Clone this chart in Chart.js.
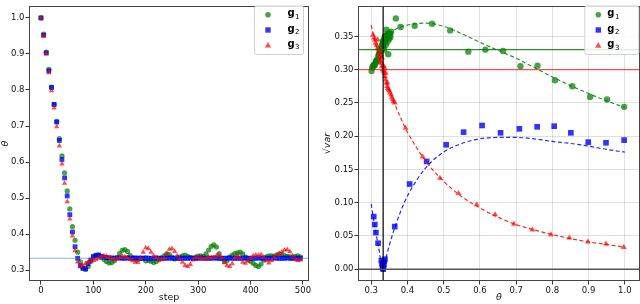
<!DOCTYPE html>
<html>
<head>
<meta charset="utf-8">
<script src="https://cdn.jsdelivr.net/npm/chart.js@4.4.0/dist/chart.umd.min.js"></script>
<style>
  body { margin: 0; width: 640px; height: 304px; overflow: hidden; position: relative; background: #fff; }
  .box { position: absolute; top: 0; height: 304px; }
</style>
</head>
<body>
<div class="box" style="left:0;width:320px"><canvas id="thetaChart" width="320" height="304"></canvas></div>
<div class="box" style="left:320px;width:324px"><canvas id="varChart" width="324" height="304"></canvas></div>
<script>
// ---- left panel: theta per step ----
const steps = [
  0, 5, 10, 15, 20, 25, 30, 35, 40, 45,
  50, 55, 60, 65, 70, 75, 80, 85, 90, 95,
  100, 105, 110, 115, 120, 125, 130, 135, 140, 145,
  150, 155, 160, 165, 170, 175, 180, 185, 190, 195,
  200, 205, 210, 215, 220, 225, 230, 235, 240, 245,
  250, 255, 260, 265, 270, 275, 280, 285, 290, 295,
  300, 305, 310, 315, 320, 325, 330, 335, 340, 345,
  350, 355, 360, 365, 370, 375, 380, 385, 390, 395,
  400, 405, 410, 415, 420, 425, 430, 435, 440, 445,
  450, 455, 460, 465, 470, 475, 480, 485, 490, 495
];
const theta1 = [
  1.0, 0.955, 0.905, 0.857, 0.808, 0.76, 0.713, 0.665, 0.617, 0.57,
  0.52, 0.47, 0.421, 0.383, 0.35, 0.323, 0.306, 0.302, 0.31, 0.324,
  0.336, 0.341, 0.342, 0.336, 0.33, 0.324, 0.32, 0.321, 0.326, 0.335,
  0.346, 0.355, 0.357, 0.352, 0.341, 0.334, 0.331, 0.33, 0.334, 0.332,
  0.326, 0.327, 0.325, 0.321, 0.324, 0.329, 0.334, 0.34, 0.345, 0.343,
  0.336, 0.331, 0.333, 0.336, 0.34, 0.342, 0.338, 0.335, 0.333, 0.336,
  0.339, 0.34, 0.338, 0.345, 0.356, 0.366, 0.37, 0.364, 0.346, 0.333,
  0.324, 0.327, 0.336, 0.342, 0.346, 0.348, 0.35, 0.345, 0.336, 0.33,
  0.325, 0.319, 0.313, 0.31, 0.317, 0.328, 0.337, 0.34, 0.34, 0.339,
  0.342, 0.345, 0.343, 0.34, 0.338, 0.337, 0.336, 0.338, 0.34, 0.337
];
const theta2 = [
  1.0, 0.952, 0.903, 0.853, 0.807, 0.76, 0.711, 0.66, 0.607, 0.556,
  0.506, 0.454, 0.406, 0.365, 0.333, 0.312, 0.305, 0.304, 0.318, 0.328,
  0.338, 0.341, 0.342, 0.338, 0.336, 0.335, 0.334, 0.334, 0.333, 0.334,
  0.334, 0.333, 0.333, 0.334, 0.333, 0.333, 0.334, 0.333, 0.333, 0.333,
  0.334, 0.333, 0.333, 0.333, 0.334, 0.333, 0.333, 0.333, 0.333, 0.334,
  0.333, 0.333, 0.334, 0.333, 0.333, 0.333, 0.333, 0.334, 0.333, 0.333,
  0.333, 0.334, 0.333, 0.333, 0.333, 0.333, 0.334, 0.333, 0.333, 0.333,
  0.333, 0.333, 0.334, 0.333, 0.333, 0.333, 0.333, 0.333, 0.334, 0.333,
  0.333, 0.333, 0.333, 0.334, 0.333, 0.333, 0.333, 0.333, 0.333, 0.334,
  0.333, 0.333, 0.333, 0.333, 0.334, 0.333, 0.333, 0.333, 0.333, 0.333
];
const theta3 = [
  1.0, 0.95, 0.90, 0.848, 0.798, 0.75, 0.698, 0.645, 0.595, 0.541,
  0.49, 0.442, 0.395, 0.354, 0.323, 0.31, 0.313, 0.318, 0.323, 0.326,
  0.327, 0.33, 0.333, 0.337, 0.34, 0.338, 0.335, 0.332, 0.33, 0.331,
  0.335, 0.338, 0.337, 0.334, 0.33, 0.326, 0.322, 0.322, 0.332, 0.35,
  0.362, 0.36, 0.35, 0.34, 0.334, 0.33, 0.329, 0.333, 0.345, 0.358,
  0.36, 0.352, 0.34, 0.33, 0.322, 0.313, 0.31, 0.316, 0.328, 0.335,
  0.336, 0.333, 0.331, 0.333, 0.336, 0.334, 0.335, 0.34, 0.341, 0.334,
  0.321, 0.313, 0.31, 0.318, 0.333, 0.34, 0.333, 0.322, 0.319, 0.325,
  0.333, 0.34, 0.342, 0.341, 0.343, 0.336, 0.326, 0.32, 0.327, 0.335,
  0.342, 0.345, 0.351, 0.356, 0.357, 0.351, 0.34, 0.331, 0.327, 0.328
];
const thetaTarget = 0.333;
const stepRange = [-22.9, 511.5];

// ---- right panel: sqrt(var) against theta ----
const sd1Theta = [0.998, 0.951, 0.904, 0.855, 0.807, 0.759, 0.712, 0.664, 0.615, 0.568, 0.518, 0.468, 0.42, 0.381, 0.368,
  0.301, 0.303, 0.305, 0.307, 0.309, 0.311, 0.313, 0.315, 0.317, 0.319, 0.321, 0.322, 0.324, 0.325, 0.326, 0.328,
  0.329, 0.33, 0.331, 0.332, 0.333, 0.334, 0.335, 0.336, 0.337, 0.338, 0.339, 0.34, 0.341, 0.342, 0.343, 0.345,
  0.346, 0.348, 0.35, 0.352, 0.355, 0.342, 0.347, 0.336, 0.34, 0.345, 0.338, 0.35, 0.353, 0.333];
const sd1Value = [0.244, 0.255, 0.259, 0.275, 0.284, 0.306, 0.305, 0.328, 0.33, 0.327, 0.359, 0.369, 0.366, 0.364, 0.377,
  0.298, 0.303, 0.305, 0.307, 0.306, 0.309, 0.311, 0.314, 0.313, 0.317, 0.32, 0.324, 0.322, 0.327, 0.331, 0.329,
  0.334, 0.337, 0.333, 0.34, 0.343, 0.338, 0.345, 0.341, 0.347, 0.344, 0.349, 0.346, 0.351, 0.348, 0.352, 0.35,
  0.354, 0.351, 0.355, 0.353, 0.357, 0.36, 0.323, 0.33, 0.337, 0.342, 0.35, 0.346, 0.349, 0.336];
const sd2Theta = [0.998, 0.948, 0.899, 0.851, 0.805, 0.758, 0.709, 0.657, 0.606, 0.555, 0.507, 0.453, 0.406, 0.365,
  0.307, 0.31, 0.313, 0.319, 0.328, 0.33, 0.331, 0.332, 0.333, 0.334, 0.335, 0.336, 0.338, 0.333, 0.332];
const sd2Value = [0.194, 0.19, 0.191, 0.205, 0.215, 0.214, 0.211, 0.205, 0.216, 0.206, 0.187, 0.162, 0.128, 0.064,
  0.079, 0.067, 0.055, 0.039, 0.013, 0.008, 0.004, 0.002, 0.0, 0.003, 0.007, 0.012, 0.015, 0.006, 0.01];
const sd3Theta = [0.997, 0.948, 0.898, 0.847, 0.796, 0.745, 0.694, 0.642, 0.591, 0.541, 0.49, 0.442, 0.395,
  0.305, 0.308, 0.31, 0.312, 0.315, 0.317, 0.32, 0.322, 0.323, 0.325, 0.327, 0.328, 0.33, 0.332, 0.334, 0.336,
  0.338, 0.34, 0.342, 0.344, 0.346, 0.348, 0.35, 0.352, 0.355, 0.357, 0.36, 0.362, 0.365, 0.33, 0.335, 0.34,
  0.345, 0.318, 0.326, 0.337];
const sd3Value = [0.033, 0.038, 0.041, 0.047, 0.052, 0.059, 0.068, 0.082, 0.097, 0.114, 0.137, 0.169, 0.212,
  0.352, 0.348, 0.345, 0.34, 0.337, 0.332, 0.33, 0.325, 0.32, 0.318, 0.313, 0.31, 0.305, 0.3, 0.298, 0.295,
  0.29, 0.285, 0.28, 0.275, 0.272, 0.27, 0.268, 0.265, 0.262, 0.258, 0.255, 0.252, 0.25, 0.318, 0.305, 0.295,
  0.28, 0.345, 0.33, 0.302];

// dashed fitted curves
const fitTheta = [0.30, 0.31, 0.32, 0.333, 0.34, 0.35, 0.36, 0.38, 0.40, 0.45, 0.50, 0.55, 0.60, 0.65, 0.70, 0.75, 0.80, 0.85, 0.90, 0.95, 1.00];
const fit1 = [0.302, 0.318, 0.33, 0.341, 0.347, 0.353, 0.358, 0.364, 0.367, 0.370, 0.365, 0.354, 0.341, 0.329, 0.317, 0.303, 0.289, 0.276, 0.264, 0.253, 0.243];
const fit2 = [0.098, 0.064, 0.034, 0.0, 0.015, 0.036, 0.054, 0.085, 0.110, 0.152, 0.176, 0.189, 0.196, 0.198, 0.198, 0.196, 0.192, 0.189, 0.185, 0.180, 0.176];
const fit3 = [0.367, 0.343, 0.322, 0.297, 0.285, 0.269, 0.255, 0.229, 0.206, 0.163, 0.132, 0.109, 0.092, 0.078, 0.067, 0.059, 0.052, 0.046, 0.041, 0.037, 0.033];

const sdTarget1 = 0.33;
const sdTarget3 = 0.30;
const thetaRange = [0.2636, 1.0418];
const sdRange = [-0.0178, 0.3955];

const GREEN = 'rgba(0,128,0,0.72)';
const BLUE = 'rgba(0,0,255,0.8)';
const RED = 'rgba(255,0,0,0.7)';
const FONT = '"DejaVu Sans", sans-serif';

const pts = (xs, ys) => xs.map((x, i) => ({ x: x, y: ys[i] }));

// box around the plot area (matplotlib spines)
const framePlugin = {
  id: 'frame',
  afterDraw(chart) {
    const { ctx, chartArea: a } = chart;
    ctx.save();
    ctx.strokeStyle = '#444';
    ctx.lineWidth = 1;
    ctx.strokeRect(Math.round(a.left) + 0.5, Math.round(a.top) + 0.5,
      Math.round(a.right - a.left) - 1, Math.round(a.bottom - a.top) - 1);
    ctx.restore();
  }
};

// legend box drawn inside the axes, like matplotlib's
const boxLegend = {
  id: 'boxLegend',
  afterDraw(chart, args, opts) {
    const ctx = chart.ctx;
    const [bx, by, bw, bh] = opts.box;
    ctx.save();
    ctx.fillStyle = 'rgba(255,255,255,0.85)';
    ctx.strokeStyle = '#d0d0d0';
    ctx.lineWidth = 1;
    ctx.beginPath();
    ctx.roundRect(bx + 0.5, by + 0.5, bw, bh, 2);
    ctx.fill();
    ctx.stroke();
    opts.items.forEach((it, i) => {
      const y = opts.rows[i];
      const x = opts.markerX;
      ctx.fillStyle = it.color;
      ctx.beginPath();
      if (it.shape === 'circle') ctx.arc(x, y, 2.8, 0, Math.PI * 2);
      else if (it.shape === 'rect') ctx.rect(x - 2.7, y - 2.7, 5.4, 5.4);
      else { ctx.moveTo(x, y - 3.4); ctx.lineTo(x + 3.1, y + 2.2); ctx.lineTo(x - 3.1, y + 2.2); ctx.closePath(); }
      ctx.fill();
      ctx.fillStyle = '#000';
      ctx.textBaseline = 'alphabetic';
      ctx.font = 'bold 10px ' + FONT;
      ctx.fillText('g', opts.textX, y + 1.5);
      ctx.font = '7px ' + FONT;
      ctx.fillText(it.sub, opts.textX + 7.6, y + 4);
    });
    ctx.restore();
  }
};

const legendItems = [
  { color: GREEN, shape: 'circle', sub: '1' },
  { color: BLUE, shape: 'rect', sub: '2' },
  { color: RED, shape: 'triangle', sub: '3' }
];

const tickFont = { family: FONT, size: 8.5 };
const titleFont = { family: FONT, size: 9.5, style: 'italic' };

function axis(opts) {
  return Object.assign({
    type: 'linear',
    border: { display: false },
  }, opts);
}

// Left chart
new Chart(document.getElementById('thetaChart'), {
  type: 'scatter',
  data: {
    datasets: [
      { data: [{ x: stepRange[0], y: thetaTarget }, { x: stepRange[1], y: thetaTarget }], showLine: true,
        borderColor: 'rgba(31,119,180,0.55)', borderWidth: 1.2, pointRadius: 0, order: 0 },
      { data: pts(steps, theta1), pointStyle: 'circle', pointRadius: 2.6, backgroundColor: GREEN, borderWidth: 0, order: 3 },
      { data: pts(steps, theta2), pointStyle: 'rect', pointRadius: 3.4, backgroundColor: BLUE, borderWidth: 0, order: 2 },
      { data: pts(steps, theta3), pointStyle: 'triangle', pointRadius: 3.1, backgroundColor: RED, borderWidth: 0, order: 1 }
    ]
  },
  options: {
    responsive: false,
    animation: false,
    layout: { padding: { left: 0, top: 1, right: 11, bottom: 0 } },
    plugins: {
      legend: { display: false },
      tooltip: { enabled: false },
      boxLegend: { box: [254, 5.5, 49, 48.5], rows: [14.7, 30, 45.3], markerX: 268, textX: 287.5, items: legendItems }
    },
    scales: {
      x: axis({
        min: stepRange[0], max: stepRange[1],
        grid: { drawOnChartArea: false, tickLength: 3.5, tickColor: '#333' },
        ticks: { font: tickFont, color: '#111', padding: 1, stepSize: 100, includeBounds: false },
        title: { display: true, text: 'step', font: { family: FONT, size: 9.5 }, color: '#111', padding: { top: 0, bottom: 1 } },
        afterFit: s => { s.height = 23; }
      }),
      y: axis({
        min: 0.2699, max: 1.0328,
        grid: { drawOnChartArea: false, tickLength: 3.5, tickColor: '#333' },
        ticks: { font: tickFont, color: '#111', padding: 1, stepSize: 0.1, includeBounds: false,
          callback: v => v.toFixed(1) },
        title: { display: true, text: 'θ', font: titleFont, color: '#111', padding: 0 },
        afterFit: s => { s.width = 29; }
      })
    }
  },
  plugins: [framePlugin, boxLegend]
});

// Right chart
const lineDs = (data, color, width, dash) => ({
  data: data, showLine: true, borderColor: color, borderWidth: width, borderDash: dash || [],
  pointRadius: 0, order: 0, cubicInterpolationMode: 'monotone', tension: 0.4
});

new Chart(document.getElementById('varChart'), {
  type: 'scatter',
  data: {
    datasets: [
      lineDs([{ x: thetaRange[0], y: sdTarget1 }, { x: thetaRange[1], y: sdTarget1 }], 'rgba(0,128,0,0.85)', 1.4),
      lineDs([{ x: thetaRange[0], y: sdTarget3 }, { x: thetaRange[1], y: sdTarget3 }], 'rgba(255,0,0,0.65)', 1.1),
      lineDs([{ x: thetaRange[0], y: 0 }, { x: thetaRange[1], y: 0 }], '#555', 1.5),
      lineDs([{ x: thetaTarget, y: sdRange[0] }, { x: thetaTarget, y: sdRange[1] }], '#000', 1.2),
      lineDs(pts(fitTheta, fit1), 'rgba(0,128,0,0.85)', 1.2, [4, 2.5]),
      lineDs(pts(fitTheta, fit2), 'rgba(0,0,255,0.85)', 1.2, [4, 2.5]),
      lineDs(pts(fitTheta, fit3), 'rgba(255,0,0,0.85)', 1.2, [4, 2.5]),
      { data: pts(sd1Theta, sd1Value), pointStyle: 'circle', pointRadius: 3.2, backgroundColor: GREEN, borderWidth: 0, order: 3 },
      { data: pts(sd2Theta, sd2Value), pointStyle: 'rect', pointRadius: 4, backgroundColor: BLUE, borderWidth: 0, order: 2 },
      { data: pts(sd3Theta, sd3Value), pointStyle: 'triangle', pointRadius: 3.4, backgroundColor: RED, borderWidth: 0, order: 1 }
    ]
  },
  options: {
    responsive: false,
    animation: false,
    layout: { padding: { left: 0, top: 1, right: 2, bottom: 0 } },
    plugins: {
      legend: { display: false },
      tooltip: { enabled: false },
      boxLegend: { box: [264.3, 5.5, 54, 48.5], rows: [14.7, 30, 45.5], markerX: 278.3, textX: 287.3, items: legendItems }
    },
    scales: {
      x: axis({
        min: thetaRange[0], max: thetaRange[1],
        grid: { color: 'rgba(0,0,0,0.12)', tickLength: 3.5, tickColor: '#333' },
        ticks: { font: tickFont, color: '#111', padding: 1, stepSize: 0.1, includeBounds: false,
          callback: v => v.toFixed(1) },
        title: { display: true, text: 'θ', font: titleFont, color: '#111', padding: { top: 0, bottom: 1 } },
        afterFit: s => { s.height = 23; }
      }),
      y: axis({
        min: sdRange[0], max: sdRange[1],
        grid: { color: 'rgba(0,0,0,0.12)', tickLength: 3.5, tickColor: '#333' },
        ticks: { font: tickFont, color: '#111', padding: 1, stepSize: 0.05, includeBounds: false,
          callback: v => v.toFixed(2) },
        title: { display: true, text: '√var', font: titleFont, color: '#111', padding: { top: 2, bottom: 0 } },
        afterFit: s => { s.width = 38; }
      })
    }
  },
  plugins: [framePlugin, boxLegend]
});
</script>
</body>
</html>
